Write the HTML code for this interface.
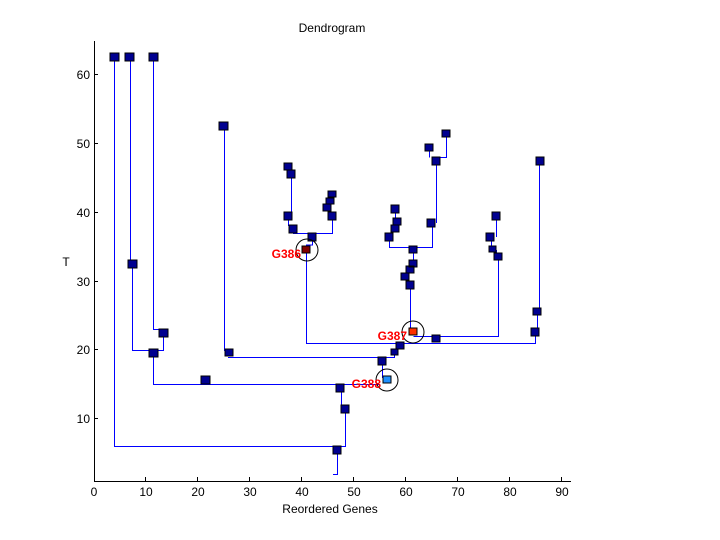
<!DOCTYPE html>
<html><head><meta charset="utf-8"><style>
html,body{margin:0;padding:0;background:#fff;}
svg{display:block;font-family:"Liberation Sans",sans-serif;}
</style></head><body>
<svg width="720" height="540" viewBox="0 0 720 540" xmlns="http://www.w3.org/2000/svg">
<rect width="720" height="540" fill="#fff"/>
<text x="332" y="32" font-size="12" text-anchor="middle">Dendrogram</text>
<text x="330" y="513" font-size="12" text-anchor="middle">Reordered Genes</text>
<text x="66" y="266" font-size="12" text-anchor="middle">T</text>
<g stroke="#000" fill="none">
<path d="M94.5 41 V481.5 H571"/>
<path d="M145.5 481v-4M197.5 481v-4M249.5 481v-4M301.5 481v-4M353.5 481v-4M405.5 481v-4M457.5 481v-4M509.5 481v-4M561.5 481v-4"/>
<path d="M94 418.5h4M94 349.5h4M94 281.5h4M94 212.5h4M94 143.5h4M94 74.5h4"/>
</g>
<g font-size="12" text-anchor="middle">
<text x="94" y="496">0</text><text x="146" y="496">10</text><text x="198" y="496">20</text><text x="250" y="496">30</text><text x="302" y="496">40</text><text x="354" y="496">50</text><text x="406" y="496">60</text><text x="458" y="496">70</text><text x="510" y="496">80</text><text x="562" y="496">90</text>
</g>
<g font-size="12" text-anchor="end">
<text x="90" y="423">10</text><text x="90" y="354">20</text><text x="90" y="286">30</text><text x="90" y="217">40</text><text x="90" y="148">50</text><text x="90" y="79">60</text>
</g>
<path stroke="#0000ff" fill="none" d="M333 474.5H337.5V450M114.5 57V446.5H345.5V409M341.5 388V405H345M130.5 57V264M132.5 264V350.5H163.5V333M153.5 57V329.5H163M153.5 354V384.5H380M224.5 127V350.5H228M228 357.5H394.5V352M382.5 361V377.5H387M306.5 250V343.5H535.5V332M537.5 332V312M539.5 312V161M413.5 336.5H498.5V257M496.5 257V250M491.5 250V237M496.5 237V216M410.5 285V332M413.5 250V264M389.5 237V247.5H432.5V223M436.5 223V161M436.5 157.5H446.5V133M429.5 157.5V147M395.5 209V229M291.5 174V216M288.5 216V226M293 233.5H332.5V216M312.5 237V245H306"/>
<path fill="#000090" stroke="#000" d="M110 53h9v8h-9zM125 53h9v8h-9zM149 53h9v8h-9zM219 122h9v8h-9zM128 260h9v8h-9zM159 329h9v8h-9zM149 349h9v8h-9zM201 376h9v8h-9zM225 349h8v7h-8zM284 163h8v7h-8zM287 170h8v8h-8zM284 212h8v8h-8zM289 225h8v8h-8zM308 233h8v8h-8zM328 191h8v6h-8zM326 198h8v6h-8zM323 204h8v7h-8zM328 212h8v8h-8zM391 205h8v8h-8zM393 218h8v7h-8zM391 225h8v7h-8zM385 233h8v8h-8zM409 246h8v7h-8zM427 219h8v8h-8zM432 157h8v8h-8zM425 144h8v7h-8zM442 130h8v7h-8zM409 260h8v7h-8zM406 266h8v7h-8zM401 273h8v7h-8zM406 281h8v8h-8zM432 335h8v7h-8zM396 342h8v7h-8zM391 349h7v6h-7zM378 357h8v8h-8zM336 384h8v8h-8zM341 405h8v8h-8zM333 446h8v8h-8zM492 212h8v8h-8zM486 233h8v8h-8zM489 246h7v6h-7zM494 253h8v7h-8zM536 157h8v8h-8zM533 308h8v7h-8zM531 328h8v8h-8z"/>
<rect x="302" y="246" width="8" height="7" fill="#800000" stroke="#000"/>
<rect x="409" y="328" width="8" height="7" fill="#ff3000" stroke="#000"/>
<rect x="383" y="376" width="8" height="7" fill="#1e90ff" stroke="#000"/>
<path fill="none" stroke="#000" d="M296 250a11 11 0 1 0 22 0a11 11 0 1 0 -22 0M402 332a11 11 0 1 0 22 0a11 11 0 1 0 -22 0M376 380a11 11 0 1 0 22 0a11 11 0 1 0 -22 0"/>
<g fill="#ff0000" font-size="12" font-weight="bold" text-anchor="end">
<text x="301" y="258">G386</text>
<text x="407" y="340">G387</text>
<text x="381" y="388">G388</text>
</g>
</svg>
</body></html>
